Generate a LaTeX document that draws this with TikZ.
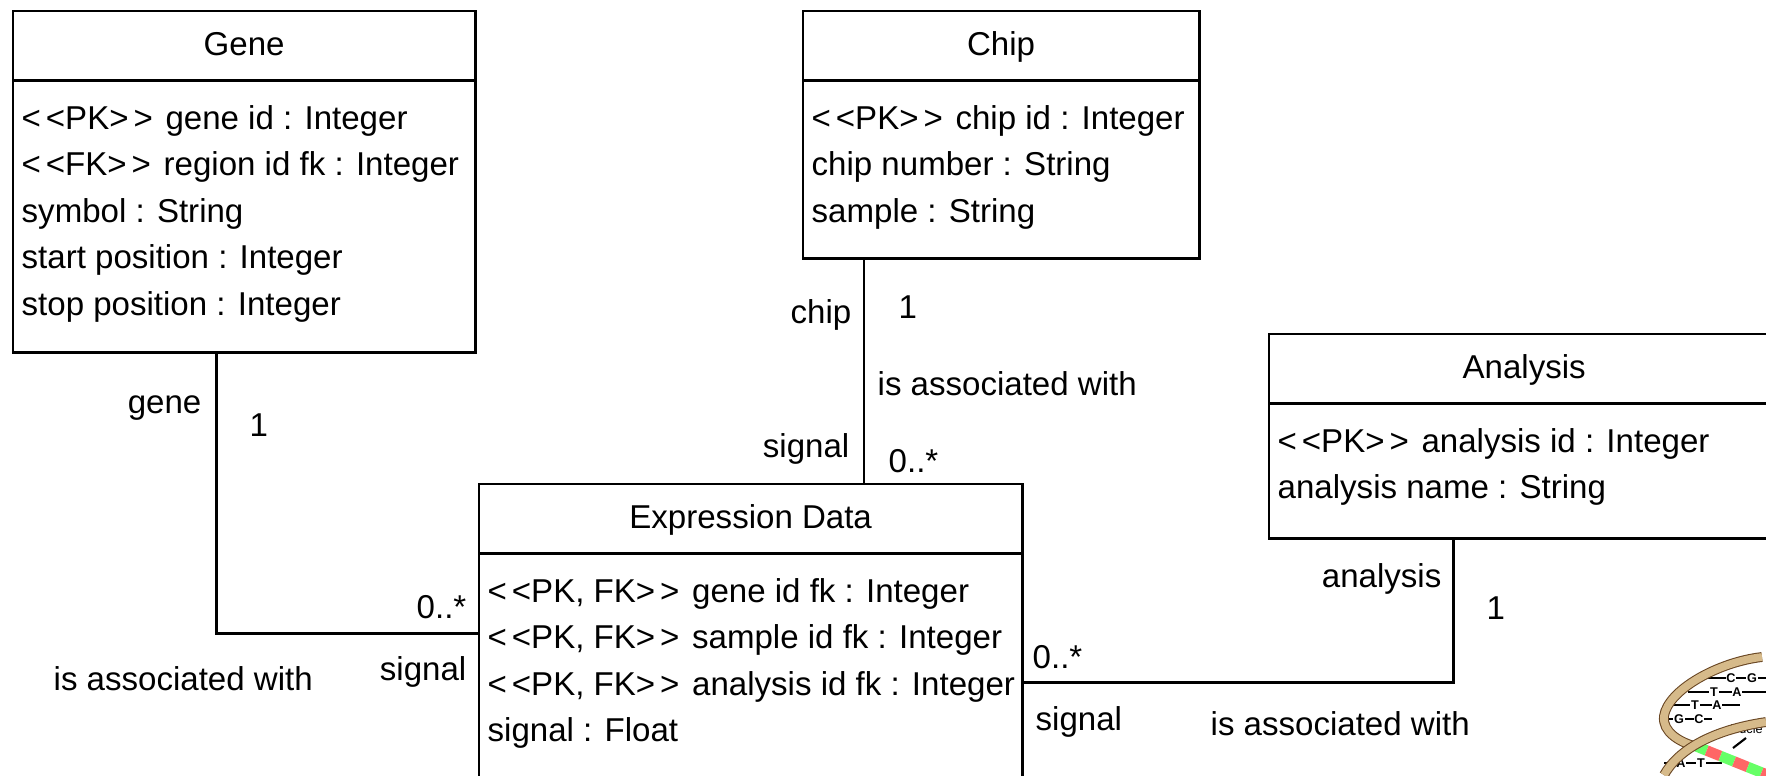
\documentclass[tikz,border=0pt]{standalone}
\usepackage{fontspec}
\setmainfont{Liberation Sans}
\usetikzlibrary{positioning,calc}
\definecolor{ribbon}{RGB}{214,186,138}
\newcommand{\umlfont}{\fontsize{9.4}{13.24}\selectfont}
\newcommand{\stereo}[1]{<\kern1.4pt<#1>\kern1.4pt>\kern1pt\relax}
\tikzset{
  cls/.style={draw,line width=0.8pt,anchor=north west,inner sep=0pt,outer sep=0pt},
  ttl/.style={anchor=north,inner sep=0pt,minimum height=0.68cm,text height=6.8pt,text depth=1pt,font=\umlfont},
  att/.style={anchor=north west,align=left,inner xsep=0.08cm,inner ysep=0.24cm,font=\umlfont},
  sep/.style={line width=0.8pt},
  asc/.style={line width=0.8pt},
  lbl/.style={inner sep=0pt,font=\umlfont},
  strand/.style={draw=brown!55!black,line width=0.3pt,double=ribbon,double distance=2.2pt},
  rung/.style={line width=0.5pt},
  base/.style={inner sep=0.2pt,fill=white,font=\fontsize{3.6}{4}\selectfont\bfseries},
}

\begin{document}
\begin{tikzpicture}[x=0.01cm,y=-0.01cm]
  \useasboundingbox (0,0) rectangle (1766,775);

  % classes
  \node[cls,minimum width=4.62cm,minimum height=3.41cm] (gene) at (13,11) {};
  \node[ttl] (gene-t) at (gene.north) {Gene};
  \draw[sep] (gene-t.south -| gene.west) -- (gene-t.south -| gene.east);
  \node[att] (gene-a) at (gene-t.south -| gene.west)
    {\stereo{PK} gene id : Integer\\
     \stereo{FK} region id fk : Integer\\
     symbol : String\\
     start position : Integer\\
     stop position : Integer};

  \node[cls,minimum width=3.96cm,minimum height=2.47cm] (chip) at (803,11) {};
  \node[ttl] (chip-t) at (chip.north) {Chip};
  \draw[sep] (chip-t.south -| chip.west) -- (chip-t.south -| chip.east);
  \node[att] (chip-a) at (chip-t.south -| chip.west)
    {\stereo{PK} chip id : Integer\\
     chip number : String\\
     sample : String};

  \node[cls,minimum width=5.10cm,minimum height=2.04cm] (analysis) at (1269,334) {};
  \node[ttl] (analysis-t) at (analysis.north) {Analysis};
  \draw[sep] (analysis-t.south -| analysis.west) -- (analysis-t.south -| analysis.east);
  \node[att] (analysis-a) at (analysis-t.south -| analysis.west)
    {\stereo{PK} analysis id : Integer\\
     analysis name : String};

  \node[cls,minimum width=5.43cm,minimum height=2.98cm] (expr) at (479,484) {};
  \node[ttl] (expr-t) at (expr.north) {Expression Data};
  \draw[sep] (expr-t.south -| expr.west) -- (expr-t.south -| expr.east);
  \node[att] (expr-a) at (expr-t.south -| expr.west)
    {\stereo{PK, FK} gene id fk : Integer\\
     \stereo{PK, FK} sample id fk : Integer\\
     \stereo{PK, FK} analysis id fk : Integer\\
     signal : Float};

  % associations
  \coordinate (chip-end) at ([xshift=-1.37cm]chip.south);
  \draw[asc] ([xshift=-0.28cm]gene.south) |- (expr.west);
  \draw[asc] (chip-end) -- (chip-end |- expr.north);
  \draw[asc] ([xshift=-0.71cm]analysis.south) |- ([yshift=-0.49cm]expr.east);

  % role names and multiplicities
  \node[lbl,anchor=base east] (g-role) at (202,413) {gene};
  \node[lbl,anchor=base west] (g-mult) at (249,436) {1};
  \node[lbl,anchor=base east] (ge-mult) at (467,618) {0..*};
  \node[lbl,anchor=base east] (ge-role) at (467,680) {signal};
  \node[lbl,anchor=base west] (ge-name) at (53,690) {is associated with};

  \node[lbl,anchor=base east] (c-role) at (852,323) {chip};
  \node[lbl,anchor=base west] (c-mult) at (898,318) {1};
  \node[lbl,anchor=base west] (ce-name) at (877,395) {is associated with};
  \node[lbl,anchor=base east] (ce-role) at (850,457) {signal};
  \node[lbl,anchor=base west] (ce-mult) at (888,472) {0..*};

  \node[lbl,anchor=base east] (a-role) at (1442,587) {analysis};
  \node[lbl,anchor=base west] (a-mult) at (1486,619) {1};
  \node[lbl,anchor=base west] (ae-mult) at (1032,668) {0..*};
  \node[lbl,anchor=base west] (ae-role) at (1035,730) {signal};
  \node[lbl,anchor=base west] (ae-name) at (1210,735) {is associated with};

  % small dna emblem, lower right
  \begin{scope}
    \clip (1650,648) rectangle (1766,775);
    \draw[rung] (1705,678) -- (1766,678);
    \draw[rung] (1688,692) -- (1766,692);
    \draw[rung] (1672,705) -- (1740,705);
    \draw[rung] (1664,719) -- (1712,719);
    \draw[rung] (1664,763) -- (1722,763);
    \node[base] (b1) at (1731,678) {C};
    \node[base] (b2) at (1752,678) {G};
    \node[base] (b3) at (1714,692) {T};
    \node[base] (b4) at (1737,692) {A};
    \node[base] (b5) at (1695,705) {T};
    \node[base] (b6) at (1717,705) {A};
    \node[base] (b7) at (1679,719) {G};
    \node[base] (b8) at (1699,719) {C};
    \node[base] (b9) at (1681,763) {A};
    \node[base] (b10) at (1701,763) {T};
    \node[base,fill=none,anchor=east,font=\fontsize{3.6}{4}\selectfont] (nuc) at (1764,729) {Nucle};
    \draw[line width=0.6pt] (1733,748) -- (1746,738);
    \foreach \i/\c in {0/green,1/red,2/green,3/red,4/green,5/red}
      \draw[line width=3pt,\c!60] ({1693+13.7*\i},{745+5.5*\i}) -- ++(13.7,5.5);
    \draw[strand] (1762,657) .. controls (1718,662) and (1668,690) .. (1664,716)
      .. controls (1662,732) and (1680,742) .. (1694,746);
    \draw[strand] (1664,775) .. controls (1678,750) and (1712,730) .. (1766,722);
  \end{scope}
\end{tikzpicture}
\end{document}
